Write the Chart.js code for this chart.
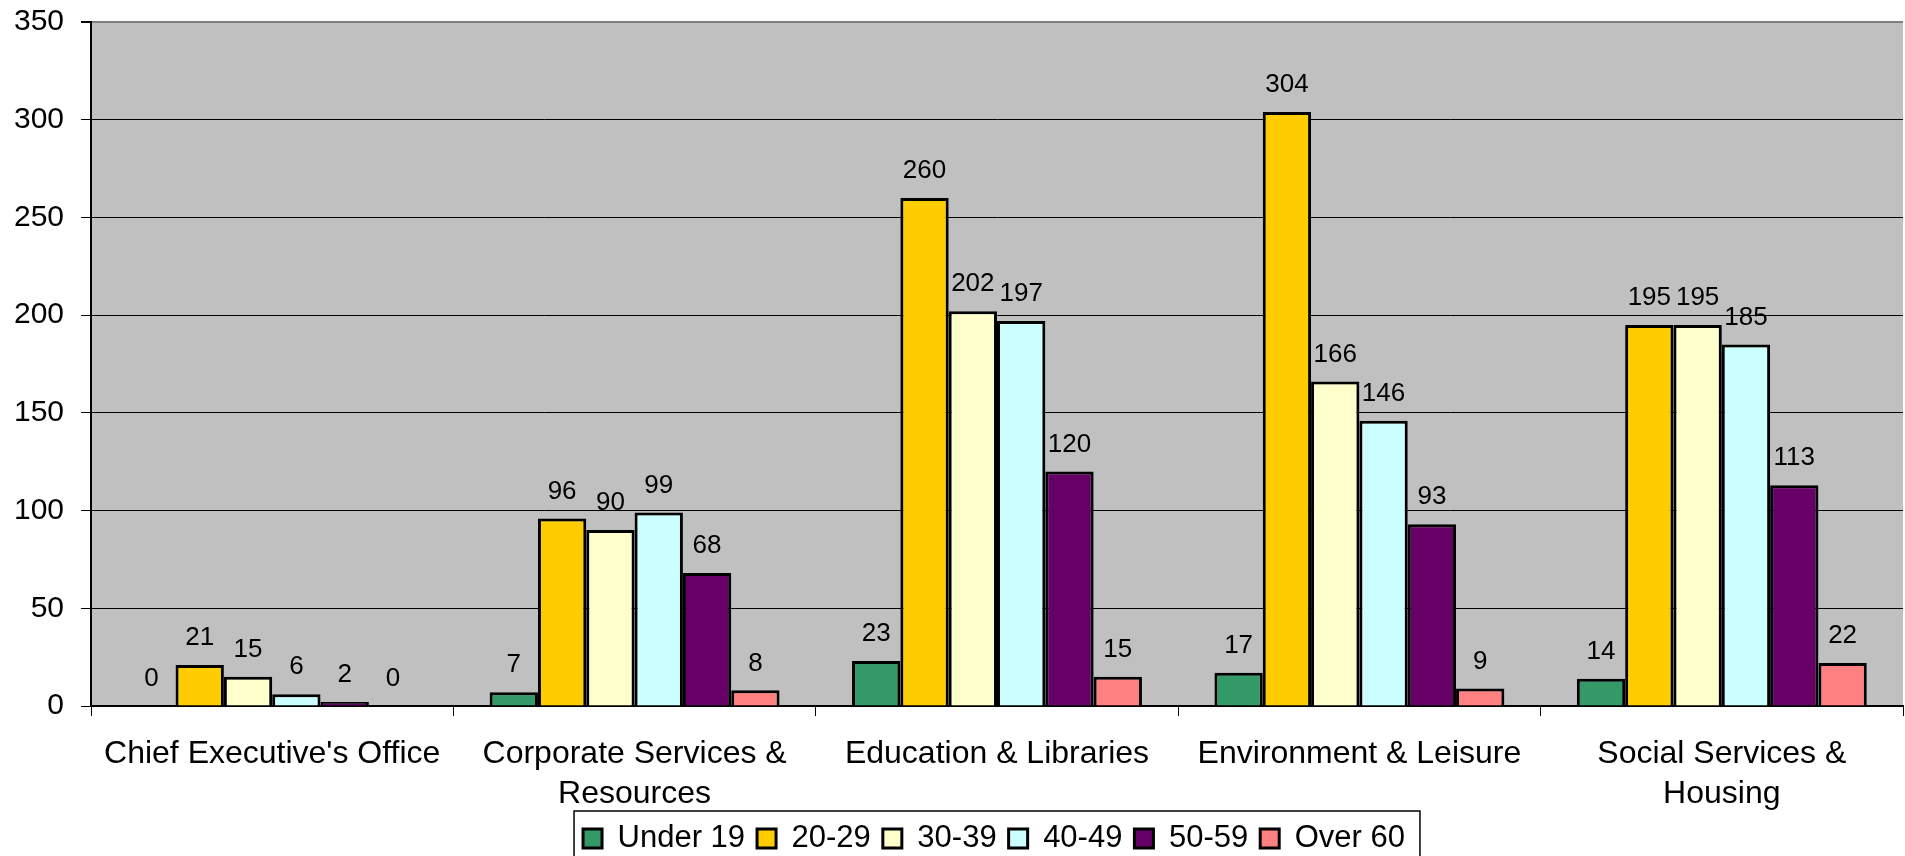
<!DOCTYPE html>
<html>
<head>
<meta charset="utf-8">
<script src="https://cdn.jsdelivr.net/npm/chart.js@4/dist/chart.umd.min.js"></script>
<style>
  html, body { margin: 0; padding: 0; background: #fff; }
  #wrap { width: 1905px; height: 856px; }
</style>
</head>
<body>
<div id="wrap"><canvas id="ageChart"></canvas></div>
<script>
const departments = [
  "Chief Executive's Office",
  ['Corporate Services &', 'Resources'],
  'Education & Libraries',
  'Environment & Leisure',
  ['Social Services &', 'Housing']
];
const ageBands = ['Under 19', '20-29', '30-39', '40-49', '50-59', 'Over 60'];
const under19 = [0, 7, 23, 17, 14];
const age20to29 = [21, 96, 260, 304, 195];
const age30to39 = [15, 90, 202, 166, 195];
const age40to49 = [6, 99, 197, 146, 185];
const age50to59 = [2, 68, 120, 93, 113];
const over60 = [0, 8, 15, 9, 22];
const bandColours = ['#339966', '#FFCC00', '#FFFFCC', '#CCFFFF', '#660066', '#FF8080'];

const FONT = '"Liberation Sans", Arial, sans-serif';
Chart.defaults.font.family = FONT;
Chart.defaults.color = '#000';

// grey plot area like the old Excel charts
const plotBackground = {
  id: 'plotBackground',
  beforeDraw(chart) {
    const { ctx, chartArea: a } = chart;
    ctx.save();
    ctx.fillStyle = '#C0C0C0';
    ctx.fillRect(a.left, a.top, a.right - a.left, a.bottom - a.top);
    ctx.restore();
  }
};

// value above every bar
const valueLabels = {
  id: 'valueLabels',
  afterDatasetsDraw(chart) {
    const ctx = chart.ctx;
    ctx.save();
    ctx.font = '26px ' + FONT;
    ctx.fillStyle = '#000';
    ctx.textAlign = 'center';
    ctx.textBaseline = 'middle';
    chart.data.datasets.forEach((ds, i) => {
      chart.getDatasetMeta(i).data.forEach((bar, j) => {
        ctx.fillText(ds.data[j], bar.x, bar.y - 27);
      });
    });
    ctx.restore();
  }
};

// legend sits under the plot area, not the whole canvas, and has a frame
const legendFrame = {
  id: 'legendFrame',
  afterLayout(chart) {
    const lg = chart.legend;
    const a = chart.chartArea;
    const dx = (a.left + a.right) / 2 - 3 - (lg.left + lg.right) / 2;
    lg.left += dx;
    lg.right += dx;
  },
  afterDraw(chart) {
    const boxes = chart.legend.legendHitBoxes;
    if (!boxes || !boxes.length) return;
    const left = Math.min(...boxes.map(b => b.left)) - 9;
    const right = Math.max(...boxes.map(b => b.left + b.width)) + 15;
    const top = chart.legend.top;
    const bottom = chart.height + 2;
    const ctx = chart.ctx;
    ctx.save();
    ctx.strokeStyle = '#000';
    ctx.lineWidth = 1.5;
    ctx.strokeRect(left, top, right - left, bottom - top);
    ctx.restore();
  }
};

const series = [under19, age20to29, age30to39, age40to49, age50to59, over60];

new Chart(document.getElementById('ageChart'), {
  type: 'bar',
  data: {
    labels: departments,
    datasets: series.map((values, i) => ({
      label: ageBands[i],
      data: values,
      backgroundColor: bandColours[i],
      borderColor: '#000',
      borderWidth: 3,
      categoryPercentage: 0.8,
      barPercentage: 1.0
    }))
  },
  options: {
    responsive: true,
    maintainAspectRatio: false,
    animation: false,
    layout: { padding: { top: 22, right: 2, bottom: -8, left: 0 } },
    plugins: {
      tooltip: { enabled: false },
      legend: {
        position: 'bottom',
        labels: {
          font: { size: 31 },
          boxWidth: 19,
          boxHeight: 19,
          padding: 12,
          color: '#000'
        }
      }
    },
    scales: {
      x: {
        grid: {
          offset: true,
          drawOnChartArea: false,
          drawTicks: true,
          tickLength: 10,
          color: '#000'
        },
        border: { color: '#000', width: 2 },
        ticks: {
          font: { size: 32, lineHeight: 1.25 },
          padding: 18,
          maxRotation: 0,
          autoSkip: false,
          color: '#000'
        },
        afterFit(scale) {
          scale.height = 105;
          scale.paddingLeft = 0;
          scale.paddingRight = 0;
        }
      },
      y: {
        min: 0,
        max: 350,
        ticks: { stepSize: 50, font: { size: 30 }, padding: 17, color: '#000' },
        grid: {
          color: c => (c.tick && c.tick.value === 350 ? '#808080' : '#000'),
          lineWidth: c => (c.tick && c.tick.value === 350 ? 2 : 1),
          tickLength: 10,
          tickColor: '#000'
        },
        border: { color: '#000', width: 2 },
        afterFit(scale) {
          scale.width = 91;
          scale.paddingTop = 0;
          scale.paddingBottom = 0;
        }
      }
    }
  },
  plugins: [plotBackground, valueLabels, legendFrame]
});
</script>
</body>
</html>
